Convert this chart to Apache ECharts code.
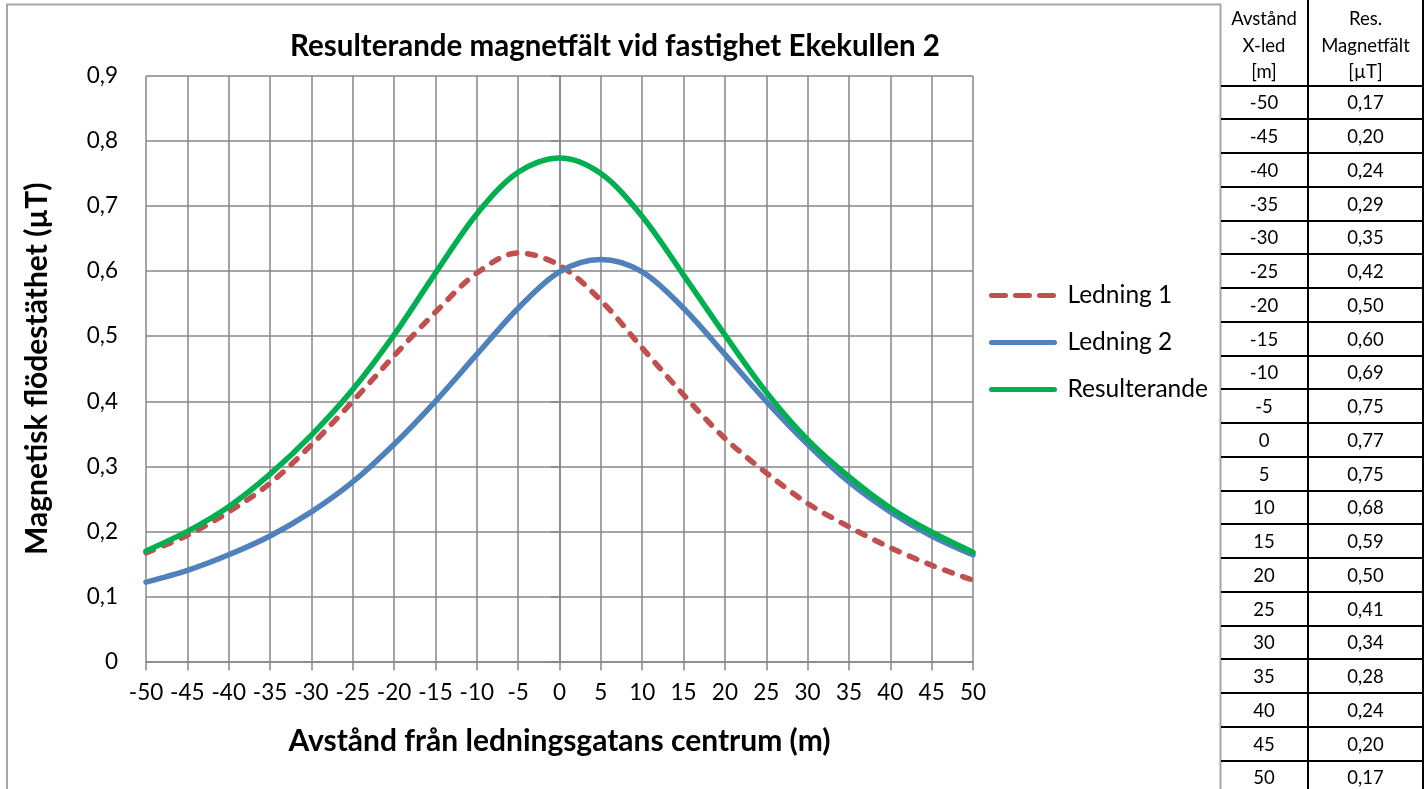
<!DOCTYPE html>
<html>
<head>
<meta charset="utf-8">
<script src="https://cdn.jsdelivr.net/npm/echarts@6/dist/echarts.min.js"></script>
<style>
  html, body { margin: 0; padding: 0; background: #fff; }
  #chart { position: absolute; left: 0; top: 0; width: 1426px; height: 789px; }
  #tbl { position: absolute; left: 1221px; top: 0; border-collapse: collapse; table-layout: fixed;
         font-family: Lato, sans-serif; font-size: 18.5px; color: #000; }
  #tbl td { border: 2px solid #000; text-align: center; vertical-align: middle; padding: 0; line-height: 20px; }
  #tbl tr td:first-child { border-left: none; }
  #tbl tr.head td { border-top: none; height: 79px; line-height: 26.5px; padding-top: 5px; }
  #tbl tr.row td { height: 31.75px; }
</style>
</head>
<body>
<div id="chart"></div>
<table id="tbl">
  <colgroup><col style="width:87px"><col style="width:115px"></colgroup>
  <tbody id="tbody"></tbody>
</table>
<script>
// ---- data ----
const xValues = [-50,-45,-40,-35,-30,-25,-20,-15,-10,-5,0,5,10,15,20,25,30,35,40,45,50];
const ledning1 = [0.167,0.194,0.230,0.274,0.333,0.400,0.470,0.537,0.597,0.628,0.609,0.555,0.482,0.410,0.343,0.290,0.243,0.207,0.175,0.148,0.125];
const ledning2 = [0.122,0.140,0.164,0.193,0.230,0.276,0.334,0.400,0.472,0.543,0.599,0.618,0.599,0.543,0.472,0.400,0.334,0.276,0.230,0.193,0.164];
const resulterande = [0.170,0.200,0.238,0.288,0.348,0.418,0.502,0.597,0.688,0.752,0.774,0.750,0.684,0.594,0.502,0.414,0.341,0.284,0.236,0.199,0.168];
const seriesNames = ['Ledning 1','Ledning 2','Resulterande'];
const tableHeadX = ['Avstånd','X-led','[m]'];
const tableHeadRes = ['Res.','Magnetfält','[µT]'];
const titleText = 'Resulterande magnetfält vid fastighet Ekekullen 2';
const xAxisName = 'Avstånd från ledningsgatans centrum (m)';
const yAxisName = 'Magnetisk flödestäthet (µT)';

// ---- table ----
const tb = document.getElementById('tbody');
let html = '<tr class="head"><td>' + tableHeadX.join('<br>') + '</td><td>' + tableHeadRes.join('<br>') + '</td></tr>';
xValues.forEach((x, i) => {
  html += '<tr class="row"><td>' + x + '</td><td>' + resulterande[i].toFixed(2).replace('.', ',') + '</td></tr>';
});
tb.innerHTML = html;

// ---- chart ----
const pair = arr => xValues.map((x, i) => [x, arr[i]]);
const gridColor = '#878787';
const font = 'Lato, sans-serif';
const chart = echarts.init(document.getElementById('chart'), null, { renderer: 'canvas' });
chart.setOption({
  animation: false,
  backgroundColor: '#fff',
  title: {
    text: titleText, left: 610, top: 26, textAlign: 'center',
    textStyle: { fontFamily: font, fontWeight: 'bold', fontSize: 29.5, color: '#000' }
  },
  graphic: [{
    type: 'rect', shape: { x: 7, y: 4.5, width: 1213.5, height: 800 },
    style: { fill: 'none', stroke: '#a6a6a6', lineWidth: 2 }, silent: true
  }],
  grid: { left: 146, right: 453, top: 76, bottom: 127.5, containLabel: false },
  legend: {
    orient: 'vertical', left: 984, top: 278, itemWidth: 63, itemHeight: 24, itemGap: 22,
    itemStyle: { opacity: 0, color: 'rgba(0,0,0,0)', borderWidth: 0 },
    lineStyle: { width: 5, cap: 'round' },
    textStyle: { fontFamily: font, fontSize: 24.5, color: '#000', lineHeight: 24, padding: [0, 0, 0, 8] },
    data: [
      { name: seriesNames[0], lineStyle: { width: 5, cap: 'round', type: [14, 10] } },
      { name: seriesNames[1] },
      { name: seriesNames[2] }
    ]
  },
  xAxis: {
    type: 'value', min: -50, max: 50, interval: 5,
    name: xAxisName, nameLocation: 'middle', nameGap: 65,
    nameTextStyle: { fontFamily: font, fontWeight: 'bold', fontSize: 30, color: '#000' },
    axisLine: { show: true, onZero: false, lineStyle: { color: gridColor, width: 1.5 } },
    axisTick: { show: true, length: 9, lineStyle: { color: gridColor, width: 1.5 } },
    axisLabel: { margin: 20, fontFamily: font, fontSize: 22.5, color: '#000' },
    splitLine: { show: true, lineStyle: { color: gridColor, width: 1.5 } }
  },
  yAxis: {
    type: 'value', min: 0, max: 0.9, interval: 0.1,
    name: yAxisName, nameLocation: 'middle', nameGap: 94, nameRotate: 90,
    nameTextStyle: { fontFamily: font, fontWeight: 'bold', fontSize: 30, color: '#000' },
    axisLine: { show: true, lineStyle: { color: gridColor, width: 1.5 } },
    axisTick: { show: true, length: 9, lineStyle: { color: gridColor, width: 1.5 } },
    axisLabel: { margin: 28, fontFamily: font, fontSize: 22.5, color: '#000',
      formatter: v => (Math.abs(v) < 1e-9 ? '0' : v.toFixed(1).replace('.', ',')) },
    splitLine: { show: true, lineStyle: { color: gridColor, width: 1.5 } }
  },
  series: [
    { name: seriesNames[0], type: 'line', data: pair(ledning1), smooth: 0.33, showSymbol: false, symbol: 'none',
      lineStyle: { color: '#C0504D', width: 5.5, type: [8, 11], cap: 'round' }, itemStyle: { color: '#C0504D' }, z: 3 },
    { name: seriesNames[1], type: 'line', data: pair(ledning2), smooth: 0.33, showSymbol: false, symbol: 'none',
      lineStyle: { color: '#4F81BD', width: 5.5, cap: 'round' }, itemStyle: { color: '#4F81BD' }, z: 4 },
    { name: seriesNames[2], type: 'line', data: pair(resulterande), smooth: 0.33, showSymbol: false, symbol: 'none',
      lineStyle: { color: '#00B050', width: 5.5, cap: 'round' }, itemStyle: { color: '#00B050' }, z: 5 }
  ]
});
</script>
</body>
</html>
